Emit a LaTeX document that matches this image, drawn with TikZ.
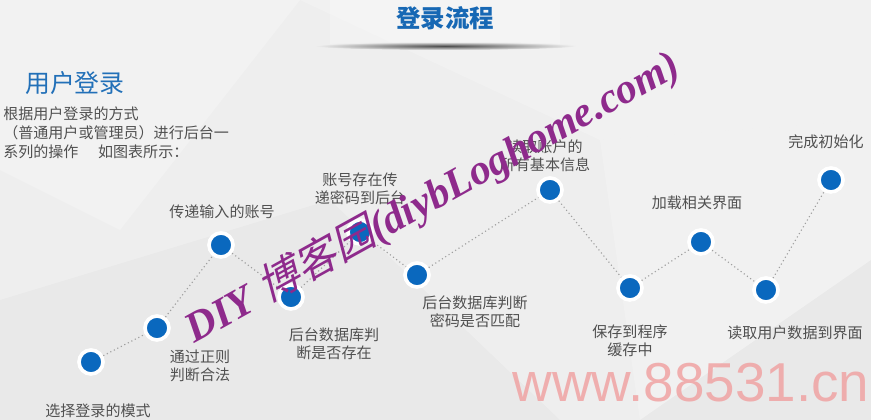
\documentclass[tikz,border=0pt]{standalone}
\usepackage{fontspec}
\setmainfont{Liberation Sans}
\newfontfamily\cjk{Noto Sans CJK SC}
\newfontfamily\cjkslant{Noto Sans CJK SC}[FakeSlant=0.25]
\newfontfamily\wmfont{Liberation Serif}
\usetikzlibrary{shadows}
\definecolor{stepblue}{HTML}{0A68BE}
\definecolor{titleblue}{HTML}{1768B4}
\definecolor{headblue}{HTML}{2270B8}
\definecolor{txtgray}{HTML}{505050}
\definecolor{wmpurple}{HTML}{8E2A8C}
\definecolor{wmpink}{HTML}{F0A3A3}
\definecolor{bggray}{HTML}{EEEEEE}

\tikzset{
  dot/.style={circle, fill=stepblue, draw=white, line width=2.6pt, minimum size=0.6cm, inner sep=0pt,
    drop shadow={opacity=0.25, shadow xshift=0.6pt, shadow yshift=-1pt}},
  link/.style={draw=gray!75, dotted, line width=0.8pt},
  lbl/.style={text=txtgray, font=\cjk\fontsize{10.7}{12.8}\selectfont, align=center, inner sep=0pt},
}

\begin{document}
\begin{tikzpicture}[x=0.025cm, y=-0.025cm]
% background
\fill[bggray] (0,0) rectangle (871,420);
\useasboundingbox (0,0) rectangle (871,420);
\fill[white, opacity=0.25] (0,0) -- (300,0) -- (120,230) -- (0,170) -- cycle;
\fill[white, opacity=0.2] (300,0) -- (871,0) -- (871,120) -- (600,140) -- cycle;
\fill[black, opacity=0.02] (0,300) -- (330,200) -- (560,420) -- (0,420) -- cycle;
\fill[white, opacity=0.2] (600,140) -- (871,120) -- (871,260) -- (640,420) -- cycle;
\fill[black, opacity=0.02] (640,420) -- (871,260) -- (871,420) -- cycle;
\fill[white, opacity=0.25] (330,0) rectangle (560,44);
\shade[inner color=black!70, outer color=bggray] (445,46) ellipse [x radius=130, y radius=4];

% titles
\node[text=titleblue, font=\cjk\bfseries\fontsize{17.4}{20}\selectfont] (title) at (445,18) {登录流程};
\node[text=headblue, font=\cjk\fontsize{17.7}{20}\selectfont] (head) at (75,83) {用户登录};
\node[lbl, align=left, anchor=north west, font=\cjk\fontsize{10.7}{13.6}\selectfont] (intro) at (3,106)
  {根据用户登录的方式\\（普通用户或管理员）进行后台一\\系列的操作\hspace{1.3em}如图表所示：};

% steps
\node[dot] (d1) at (91,362) {};
\node[dot] (d2) at (157,328) {};
\node[dot] (d3) at (221,245) {};
\node[dot] (d4) at (291,297) {};
\node[dot] (d5) at (360,232) {};
\node[dot] (d6) at (417,275) {};
\node[dot] (d7) at (550,190) {};
\node[dot] (d8) at (630,288) {};
\node[dot] (d9) at (701,242) {};
\node[dot] (d10) at (766,290) {};
\node[dot] (d11) at (831,180) {};
\draw[link] (d1) -- (d2) -- (d3) -- (d4) -- (d5) -- (d6) -- (d7) -- (d8) -- (d9) -- (d10) -- (d11);

\node[lbl] (t1) at (98,411) {选择登录的模式};
\node[lbl] (t2) at (200,366) {通过正则\\判断合法};
\node[lbl] (t3) at (222,212) {传递输入的账号};
\node[lbl] (t4) at (334,344) {后台数据库判\\断是否存在};
\node[lbl] (t5) at (360,189) {账号存在传\\递密码到后台};
\node[lbl] (t6) at (475,312) {后台数据库判断\\密码是否匹配};
\node[lbl] (t7) at (545,156) {读取账户的\\所有基本信息};
\node[lbl] (t8) at (630,341) {保存到程序\\缓存中};
\node[lbl] (t9) at (697,203) {加载相关界面};
\node[lbl] (t10) at (795,333) {读取用户数据到界面};
\node[lbl] (t11) at (826,142) {完成初始化};

% watermarks
\node[rotate=29, text=wmpurple, font=\wmfont\bfseries\itshape\fontsize{30}{30}\selectfont] (wm) at (432,197)
  {DIY {\cjkslant\mdseries\upshape 博客园}(diybLoghome.com)};
\node[text=wmpink, opacity=0.85, font=\fontsize{39}{39}\selectfont] (url) at (691,383) {www.88531.cn};
\end{tikzpicture}
\end{document}
